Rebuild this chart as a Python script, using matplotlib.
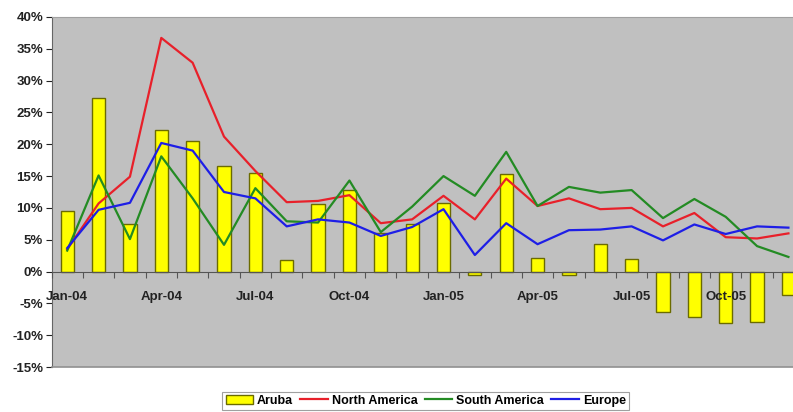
import matplotlib
matplotlib.use("Agg")
import matplotlib.pyplot as plt
import numpy as np
from matplotlib.ticker import FixedLocator, FuncFormatter

months = ["Jan-04", "Feb-04", "Mar-04", "Apr-04", "May-04", "Jun-04", "Jul-04", "Aug-04",
          "Sep-04", "Oct-04", "Nov-04", "Dec-04", "Jan-05", "Feb-05", "Mar-05", "Apr-05",
          "May-05", "Jun-05", "Jul-05", "Aug-05", "Sep-05", "Oct-05", "Nov-05", "Dec-05"]

aruba = [9.5, 27.3, 7.5, 22.2, 20.5, 16.6, 15.5, 1.8, 10.6, 12.8, 6.0, 7.5,
         10.8, -0.6, 15.3, 2.1, -0.6, 4.3, 2.0, -6.4, -7.1, -8.1, -7.9, -3.7]
north_america = [3.5, 10.7, 14.9, 36.7, 32.8, 21.2, 15.8, 10.9, 11.1, 12.0, 7.6, 8.2,
                 11.9, 8.2, 14.6, 10.3, 11.5, 9.8, 10.0, 7.1, 9.2, 5.4, 5.2, 6.0]
south_america = [3.3, 15.1, 5.1, 18.1, 11.5, 4.2, 13.1, 7.9, 7.7, 14.3, 6.2, 10.2,
                 15.0, 11.9, 18.8, 10.3, 13.3, 12.4, 12.8, 8.4, 11.4, 8.6, 4.0, 2.3]
europe = [3.7, 9.7, 10.8, 20.2, 19.0, 12.5, 11.5, 7.1, 8.2, 7.7, 5.6, 7.0,
          9.8, 2.6, 7.6, 4.3, 6.5, 6.6, 7.1, 4.9, 7.4, 5.9, 7.1, 6.9]

series_names = ["Aruba", "North America", "South America", "Europe"]
y_ticks = [-15, -10, -5, 0, 5, 10, 15, 20, 25, 30, 35, 40]

plt.rcParams['font.family'] = ['Liberation Sans', 'DejaVu Sans']

fig = plt.figure(figsize=(7.93, 4.12), dpi=100)
ax = fig.add_axes([0.065, 0.109, 0.949, 0.850])
ax.set_facecolor('#C0C0C0')

x = np.arange(len(months))
h_bar = ax.bar(x, aruba, width=0.42, color='#FFFF00', edgecolor='#6B6B00', linewidth=1.0,
               label=series_names[0], zorder=2)
h_na, = ax.plot(x, north_america, color='#E8202A', lw=1.6, label=series_names[1], zorder=3)
h_sa, = ax.plot(x, south_america, color='#238B23', lw=1.6, label=series_names[2], zorder=3)
h_eu, = ax.plot(x, europe, color='#1E1EE6', lw=1.6, label=series_names[3], zorder=3)

ax.set_xlim(-0.5, len(months) - 0.5)
ax.set_ylim(-15, 40)
ax.yaxis.set_major_locator(FixedLocator(y_ticks))
ax.yaxis.set_major_formatter(FuncFormatter(lambda v, p: f"{int(v)}%"))
for lab in ax.get_yticklabels():
    lab.set_fontweight('bold')
ax.tick_params(axis='y', labelsize=9.5, colors='#222222', length=4, width=0.8,
               direction='out', pad=2)

# x axis at zero
ax.spines['bottom'].set_position(('data', 0))
ax.spines['bottom'].set_color('#555555')
ax.spines['left'].set_color('#666666')
ax.spines['top'].set_color('#A0A0A0')
ax.spines['right'].set_visible(False)
ax.axhline(-15, color='#909090', lw=1.2, zorder=4, clip_on=False)

ax.set_xticks(np.arange(-0.5, len(months), 1.0))
ax.set_xticklabels([])
ax.tick_params(axis='x', which='major', length=4, width=0.8, color='#555555', direction='out')
label_pos = x[::3]
ax.set_xticks(label_pos, minor=True)
ax.set_xticklabels([months[i] for i in label_pos], minor=True, fontsize=9.5,
                   fontweight='bold', color='#222222')
ax.tick_params(axis='x', which='minor', length=0, pad=14)
ax.xaxis.set_zorder(5)

leg = ax.legend([h_bar, h_na, h_sa, h_eu], series_names,
                loc='upper center', bbox_to_anchor=(0.497, -0.052), ncol=4,
                frameon=True, fancybox=False, handlelength=2.2,
                handletextpad=0.3, columnspacing=0.6, borderpad=0.25,
                prop={'weight': 'bold', 'size': 9})
leg.get_frame().set_edgecolor('#888888')
leg.get_frame().set_linewidth(0.8)

fig.savefig('out.png', dpi=100)
